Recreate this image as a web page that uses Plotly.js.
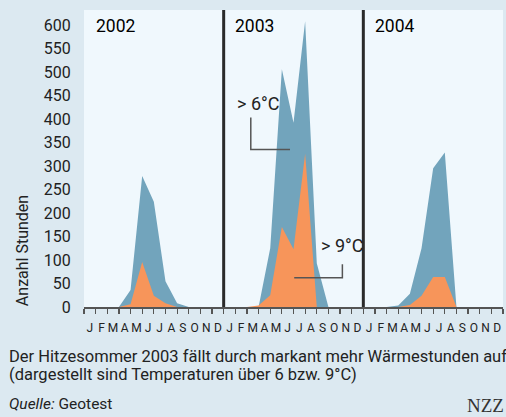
<!DOCTYPE html>
<html>
<head>
<meta charset="utf-8">
<script src="https://cdn.plot.ly/plotly-3.0.1.min.js"></script>
<style>html,body{margin:0;padding:0;background:#dce9f1;}#chart{width:506px;height:417px;}</style>
</head>
<body>
<div id="chart"></div>
<script>
// month index 0..36 (Jan 2002 .. Jan 2005 boundary)
const monthIndex = [0,1,2,3,4,5,6,7,8,9,10,11,12,13,14,15,16,17,18,19,20,21,22,23,24,25,26,27,28,29,30,31,32,33,34,35,36];
// hours above 6°C
const hoursAbove6 = [0,0,0,0,36,279,224,55,8,0,0,0, 0,0,0,0,125,506,392,608,93,0,0,0, 0,0,0,3,28,125,295,329,0,0,0,0,0];
// hours above 9°C
const hoursAbove9 = [0,0,0,0,6,96,24,8,0,0,0,0, 0,0,0,3,25,170,123,326,0,0,0,0, 0,0,0,0,4,24,64,64,0,0,0,0,0];
const monthLetters = ['J','F','M','A','M','J','J','A','S','O','N','D'];
const years = ['2002','2003','2004'];
const yTicks = [0,50,100,150,200,250,300,350,400,450,500,550,600];

const monthTickVals = [];
const monthTickText = [];
for (let y = 0; y < years.length; y++) {
  for (let m = 0; m < 12; m++) {
    monthTickVals.push(y*12 + m + 0.5);
    monthTickText.push(monthLetters[m]);
  }
}

const font = 'Roboto, "Liberation Sans", sans-serif';

const traces = [
  {x: monthIndex, y: hoursAbove6, type: 'scatter', mode: 'lines', fill: 'tozeroy',
   fillcolor: '#72a4bc', line: {width: 0, color: '#72a4bc'}, hoverinfo: 'skip'},
  {x: monthIndex, y: hoursAbove9, type: 'scatter', mode: 'lines', fill: 'tozeroy',
   fillcolor: '#f7955a', line: {width: 0, color: '#f7955a'}, hoverinfo: 'skip'},
  {x: [0], y: [0], xaxis: 'x2', type: 'scatter', mode: 'markers', marker: {opacity: 0}, hoverinfo: 'skip'}
];

const shapes = [];
for (let y = 1; y < years.length; y++) {
  shapes.push({type: 'line', xref: 'x', yref: 'paper', x0: y*12, x1: y*12, y0: 0, y1: 1,
               line: {color: '#2b2b2b', width: 3}});
}
// leader lines
shapes.push({type: 'path', xref: 'x', yref: 'y', path: 'M 14.33 403 L 14.33 335 L 17.7 335',
             line: {color: '#555', width: 1.5}});
shapes.push({type: 'path', xref: 'x', yref: 'y', path: 'M 22.2 91 L 22.2 62 L 18.06 62',
             line: {color: '#555', width: 1.5}});

const annotations = [];
years.forEach((yr, i) => {
  annotations.push({text: yr, xref: 'x', yref: 'y', x: i*12 + 0.82, y: 598, xanchor: 'left', yanchor: 'middle',
    showarrow: false, font: {family: font, size: 17.5, color: '#000', weight: 'normal'}});
});
annotations.push({text: '> 6°C', xref: 'x', yref: 'y', x: 13.0, y: 432, xanchor: 'left', yanchor: 'middle',
  showarrow: false, font: {family: font, size: 18, color: '#222'}});
annotations.push({text: '> 9°C', xref: 'x', yref: 'y', x: 20.15, y: 130, xanchor: 'left', yanchor: 'middle',
  showarrow: false, font: {family: font, size: 18, color: '#222'}});
annotations.push({text: 'Anzahl Stunden', xref: 'paper', yref: 'y', x: -0.148, y: 121, textangle: -90,
  xanchor: 'center', yanchor: 'middle', showarrow: false, font: {family: font, size: 16, color: '#222'}});
annotations.push({text: 'Der Hitzesommer 2003 fällt durch markant mehr Wärmestunden auf', xref: 'paper', yref: 'paper',
  x: -0.184, y: -0.165, xanchor: 'left', yanchor: 'middle', showarrow: false, font: {family: font, size: 16.5, color: '#222'}});
annotations.push({text: '(dargestellt sind Temperaturen über 6 bzw. 9°C)', xref: 'paper', yref: 'paper',
  x: -0.184, y: -0.2276, xanchor: 'left', yanchor: 'middle', showarrow: false, font: {family: font, size: 16.5, color: '#222'}});
annotations.push({text: '<i>Quelle:</i> Geotest', xref: 'paper', yref: 'paper',
  x: -0.184, y: -0.3266, xanchor: 'left', yanchor: 'middle', showarrow: false, font: {family: font, size: 15.5, color: '#222'}});
annotations.push({text: 'NZZ', xref: 'paper', yref: 'paper',
  x: 1.006, y: -0.3326, xanchor: 'right', yanchor: 'middle', showarrow: false, font: {family: '"Liberation Serif", serif', size: 19, color: '#333'}});

const layout = {
  width: 506, height: 417,
  margin: {l: 84, r: 3, t: 10, b: 110, pad: 0},
  paper_bgcolor: '#dce9f1', plot_bgcolor: '#f0f8fd',
  showlegend: false,
  xaxis: {range: [0, 36], tickmode: 'array', tickvals: monthIndex, ticktext: monthIndex.map(() => ''),
          ticks: 'outside', ticklen: 5, tickwidth: 1.2, tickcolor: '#555', showline: true, linecolor: '#555',
          linewidth: 1.5, showgrid: false, zeroline: false, fixedrange: true},
  xaxis2: {range: [0, 36], overlaying: 'x', anchor: 'y', side: 'bottom', tickmode: 'array',
           tickvals: monthTickVals, ticktext: monthTickText, ticks: 'outside', ticklen: 10,
           tickcolor: 'rgba(0,0,0,0)', showline: false, showgrid: false, zeroline: false,
           tickfont: {family: font, size: 12, color: '#222'}},
  yaxis: {range: [0, 632], tickmode: 'array', tickvals: yTicks, ticks: 'outside', ticklen: 9,
          tickcolor: 'rgba(0,0,0,0)', showline: false, showgrid: false, zeroline: false,
          tickfont: {family: font, size: 16, color: '#222'}},
  shapes: shapes,
  annotations: annotations
};

Plotly.newPlot('chart', traces, layout, {displayModeBar: false, staticPlot: true});
</script>
</body>
</html>
